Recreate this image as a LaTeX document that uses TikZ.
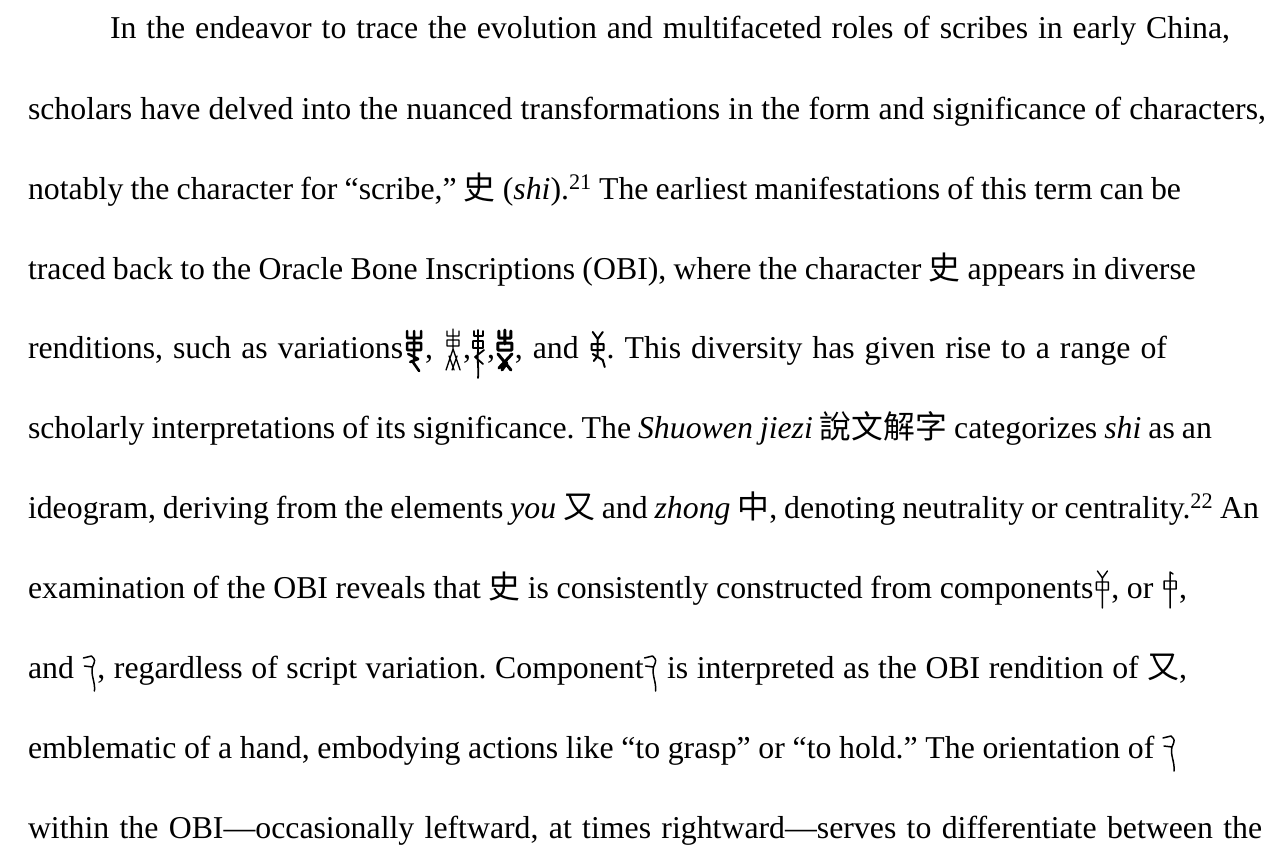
\documentclass[tikz,border=0pt]{standalone}
\usepackage{fontspec}
\setmainfont{Liberation Serif}
\newfontfamily\cjk{Noto Sans CJK SC}
\frenchspacing

\tikzset{
  glyph/.style={baseline=0pt, x=1pt, y=1pt, line cap=round, line join=round},
  textline/.style={anchor=base west, inner sep=0pt, outer sep=0pt,
    font=\fontsize{31.8}{34}\selectfont},
}
% one printed line, set to a given width by its interword spaces
\newlength\linegap
\newcommand\fitline[2]{{\setlength\linegap{0.25em plus 0.6em minus 0.12em}%
  \spaceskip=\linegap\makebox[#1pt][s]{#2}}}

% Oracle-bone forms of shi, drawn as small inline pictures
\newcommand\obiA{\tikz[glyph]{\useasboundingbox (0,-14) rectangle (22,28);
  \draw[line width=2.6] (11,-2)--(11,27) (4,27)--(4,20)--(18,20)--(18,27)
    (4,8) rectangle (18,15) (5,4)--(15,-1)--(7,-4) (9,-3)--(16,-13);}}
\newcommand\obiB{\tikz[glyph]{\useasboundingbox (0,-14) rectangle (20,28);
  \draw[line width=1.3] (10,29)--(10,9) (4,27)--(4,22)--(16,22)--(16,27)
    (4,12) rectangle (16,18) (10,9)--(3,-12) (10,9)--(17,-12)
    (6,2)--(11,-12) (14,2)--(9,-12);}}
\newcommand\obiC{\tikz[glyph]{\useasboundingbox (0,-20) rectangle (16,28);
  \draw[line width=1.8] (7,28)--(7,8) .. controls (6,-4) and (8,-12) .. (7,-20)
    (3,27)--(3,22)--(12,22)--(12,27) (2,10) rectangle (12,17)
    (13,8)--(4,1)--(12,-6);}}
\newcommand\obiD{\tikz[glyph]{\useasboundingbox (0,-14) rectangle (20,28);
  \draw[line width=3] (4,27)--(4,20)--(16,20)--(16,27) (10,28)--(10,14)
    (3,8) rectangle (17,15) (3,4)--(16,-12) (17,4)--(4,-10) (7,-12)--(12,-5);}}
\newcommand\obiE{\tikz[glyph]{\useasboundingbox (0,-14) rectangle (18,28);
  \draw[line width=2] (4,26)--(9,19)--(14,26) (9,19)--(9,2)
    (3,8) rectangle (15,14) (9,2)--(5,-3) (4,4)--(14,-2)--(16,-9);}}
% zhong-like components and the hand component you
\newcommand\obiF{\tikz[glyph]{\useasboundingbox (0,-12) rectangle (18,28);
  \draw[line width=1.4] (4,27)--(9,20)--(14,27) (9,20)--(9,-10)
    (3,8) rectangle (15,16);}}
\newcommand\obiG{\tikz[glyph]{\useasboundingbox (0,-12) rectangle (18,28);
  \draw[line width=1.4] (9,26)--(9,-10) (9,26)--(12,24)
    (3,9) rectangle (15,17);}}
\newcommand\obiH{\tikz[glyph]{\useasboundingbox (0,-12) rectangle (15,24);
  \draw[line width=1.5] (1,20)--(9,22) .. controls (13,18) .. (10,11)
    (2,12)--(10,11) (10,11) .. controls (8,3) and (13,-4) .. (12,-13);}}

\begin{document}
\begin{tikzpicture}[x=1pt, y=1pt]
\useasboundingbox[fill=white] (0,0) rectangle (1274,-851);
\node[textline] (l1) at (110,-39) {\fitline{1120}
  {In the endeavor to trace the evolution and multifaceted roles of scribes in early China,}};
\node[textline] (l2) at (28,-119) {\fitline{1238}
  {scholars have delved into the nuanced transformations in the form and significance of characters,}};
\node[textline] (l3) at (28,-199) {\fitline{1153}
  {notably the character for “scribe,” {\cjk 史} (\textit{shi}).\textsuperscript{21} The earliest manifestations of this term can be}};
\node[textline] (l4) at (28,-279) {\fitline{1168}
  {traced back to the Oracle Bone Inscriptions (OBI), where the character {\cjk 史} appears in diverse}};
\node[textline] (l5) at (28,-358) {\fitline{1139}
  {renditions, such as variations\obiA, \obiB,\obiC,\obiD, and \obiE. This diversity has given rise to a range of}};
\node[textline] (l6) at (28,-438) {\fitline{1184}
  {scholarly interpretations of its significance. The \textit{Shuowen jiezi} {\cjk 說文解字} categorizes \textit{shi} as an}};
\node[textline] (l7) at (28,-518) {\fitline{1231}
  {ideogram, deriving from the elements \textit{you} {\cjk 又} and \textit{zhong} {\cjk 中}, denoting neutrality or centrality.\textsuperscript{22} An}};
\node[textline] (l8) at (28,-598) {\fitline{1159}
  {examination of the OBI reveals that {\cjk 史} is consistently constructed from components\obiF, or \obiG,}};
\node[textline] (l9) at (28,-678) {\fitline{1159}
  {and \obiH, regardless of script variation. Component\obiH{} is interpreted as the OBI rendition of {\cjk 又},}};
\node[textline] (l10) at (28,-758) {\fitline{1149}
  {emblematic of a hand, embodying actions like “to grasp” or “to hold.” The orientation of \obiH}};
\node[textline] (l11) at (28,-838) {\fitline{1234}
  {within the OBI—occasionally leftward, at times rightward—serves to differentiate between the}};
\end{tikzpicture}
\end{document}
